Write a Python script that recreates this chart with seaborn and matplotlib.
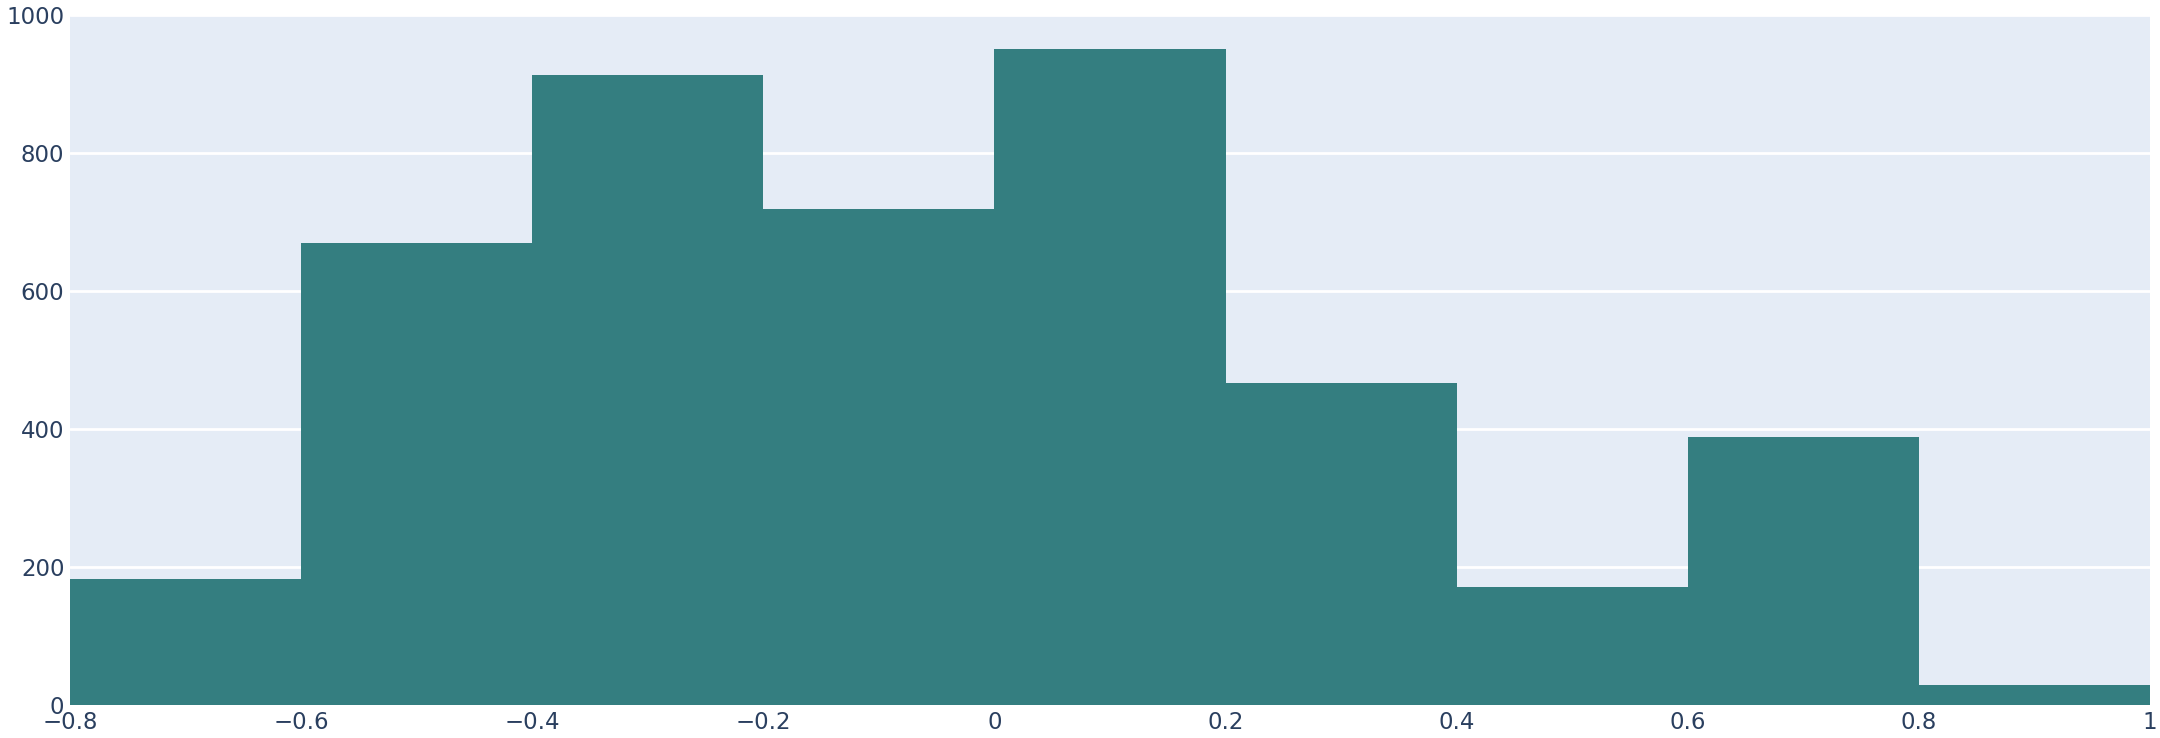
import matplotlib
matplotlib.use("Agg")
import matplotlib.pyplot as plt
import seaborn as sns
import numpy as np

# histogram bins and counts
bin_edges = [-0.8, -0.6, -0.4, -0.2, 0.0, 0.2, 0.4, 0.6, 0.8, 1.0]
counts = [183, 669, 913, 719, 951, 467, 171, 388, 29]
x_ticks = [-0.8, -0.6, -0.4, -0.2, 0, 0.2, 0.4, 0.6, 0.8, 1]
x_labels = ["\u22120.8", "\u22120.6", "\u22120.4", "\u22120.2", "0", "0.2", "0.4", "0.6", "0.8", "1"]
y_ticks = [0, 200, 400, 600, 800, 1000]

sns.set_style("white")
plt.rcParams['font.family'] = ['DejaVu Sans']

centers = (np.array(bin_edges[:-1]) + np.array(bin_edges[1:])) / 2

fig = plt.figure(figsize=(21.6, 7.38), dpi=100)
ax = fig.add_axes([70 / 2160, 33 / 738, 2080 / 2160, 690 / 738])
ax.set_facecolor("#E5ECF6")

sns.histplot(x=centers, weights=counts, bins=bin_edges, color="#347E80",
             alpha=1, edgecolor="none", linewidth=0, ax=ax, zorder=2)

ax.set_xlim(-0.8, 1.0)
ax.set_ylim(0, 1000)
ax.set_xticks(x_ticks)
ax.set_xticklabels(x_labels)
ax.set_yticks(y_ticks)
ax.yaxis.grid(True, color="white", linewidth=2)
ax.xaxis.grid(False)
ax.set_axisbelow(True)
for s in ax.spines.values():
    s.set_visible(False)
ax.tick_params(axis="both", length=0, labelsize=16.5, colors="#2A3F5F")
ax.tick_params(axis="x", pad=4)
ax.tick_params(axis="y", pad=4)
ax.set_xlabel("")
ax.set_ylabel("")

fig.savefig("out.png", dpi=100)
